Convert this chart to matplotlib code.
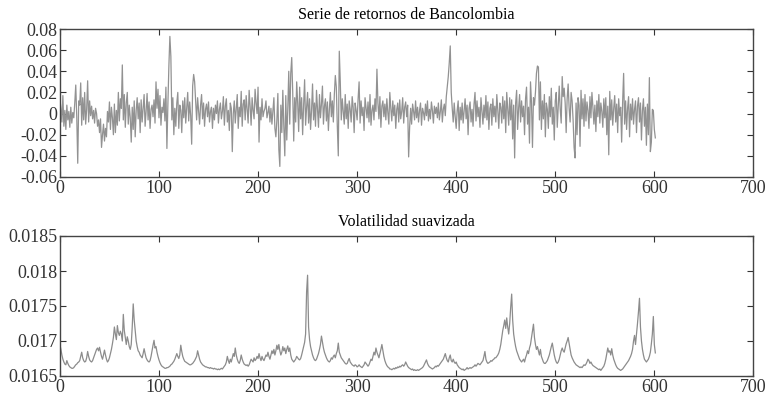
import matplotlib
matplotlib.use('Agg')
import matplotlib.pyplot as plt
import numpy as np

# Retornos diarios de Bancolombia (en milésimas)
retornos = [
    14, 5, -8, 17, -12, 3, -15, 8, -6, 2, -13, 6, -9, 1, -4, 10, 27, -3, -47, 12,
    8, 29, -11, 15, -6, 20, -10, 4, 31, -8, 12, -2, 7, -5, 3, -9, 5, 0, -12, -6,
    -18, -5, -32, -20, -10, -26, -14, -22, 2, -8, 11, -15, 6, -4, -20, 9, -18, 3, -11, 20,
    -7, 14, 5, 46, -6, 18, -13, 10, 20, -10, 8, -4, -27, 6, -15, 12, -22, 3, 15, -5,
    10, -18, 13, -8, 5, 18, -12, 2, 19, -6, 11, -14, 4, 8, -3, 13, -9, 30, 5, 23,
    -4, 17, -11, 6, 1, 14, -7, 25, -33, 9, 45, 73, 54, -6, 15, -20, 5, -12, 10, 20,
    -14, 8, 3, -18, 12, -4, 15, -9, 6, 20, -7, 11, -2, -29, 26, 37, 30, 12, -6, 15,
    3, -10, 8, 18, -5, 10, -12, 4, 9, -3, 11, -8, 2, 6, -14, 5, -6, 8, 0, 12,
    -9, 4, 10, -5, 2, 16, -11, 7, 14, -8, 3, -16, 10, 5, -36, 0, 12, -9, 4, 18,
    -14, 6, -3, 21, -12, 9, 13, -6, 17, 4, -9, 22, 7, -11, 15, 3, -5, 23, 10, 0,
    25, -27, 6, -6, 14, -3, 2, 5, 12, -4, 1, 7, -8, 5, -10, 3, 15, -14, -22, -6,
    19, -34, -50, 8, -18, 22, -12, -40, 17, -25, 4, 40, -10, 38, 53, 20, -26, 15, -8, 30,
    10, -17, 25, -5, 15, -20, 8, 32, -11, 6, 20, -9, 14, -15, 3, 28, -6, 10, -12, 22,
    5, -13, 18, -4, 9, 26, -10, 7, 14, -7, 11, -16, 4, 20, -3, 12, -8, 18, 36, 25,
    -12, -40, 59, 30, -6, 14, 2, -10, 18, -5, 9, -14, 12, 4, -8, 16, 6, -18, 10, 3,
    -6, 14, 30, -9, 12, -2, 6, -16, 15, 5, -4, 11, -8, 18, -11, 3, 8, -6, 14, 2,
    42, 10, -5, 16, -13, 7, 12, -3, 9, -6, 14, 1, -10, 20, 5, -7, 12, -2, 8, -14,
    4, 10, -8, 13, -5, 2, 15, -9, 6, 11, -3, 8, -41, -13, 5, -10, 9, 2, -6, 12,
    -4, 6, -8, 3, 10, -11, 5, 1, -6, 9, -2, 12, -7, 4, -5, 11, 3, -9, 7, 0,
    6, -4, 10, -6, 2, 13, -8, 4, 9, -2, 16, 25, 35, 48, 64, 20, 5, -8, 10, -3,
    -14, 3, 12, -16, 6, -6, 10, -9, 2, 14, -5, 8, -20, 5, 11, -8, 4, -12, 9, 20,
    -7, 12, -3, 6, -13, 15, 2, -10, 8, -4, 17, -6, 11, -15, 5, 9, -11, 14, -3, 7,
    -8, 18, 3, -14, 10, 6, -9, 16, -5, 12, -18, 20, 4, -11, 15, -6, 13, -24, 8, -42,
    10, 22, -15, 5, 18, -8, 12, -3, 7, -20, 14, 25, -10, 6, -28, 30, 10, -32, 15, 8,
    20, 38, 45, 44, -6, 30, -15, 12, -5, 18, -22, 10, 4, -14, 16, -3, 24, -10, 6, -25,
    12, 20, -13, 7, 26, 4, -9, 35, 16, 24, 10, -18, 14, 28, 5, -8, 20, 12, -6, -32,
    -42, 10, -20, 15, 8, -31, 22, -5, 14, -12, 18, -7, 11, 3, -14, 16, -4, 20, 6, -10,
    8, -17, 12, -3, 18, -9, 10, 2, -13, 14, -4, 15, -20, 7, -39, 21, -6, 13, -11, 5,
    17, -8, 9, -18, 14, -2, 6, -27, 11, 38, -10, 12, -15, 5, 16, -22, 9, -6, 14, -10,
    4, 12, -18, 7, 15, -8, 10, -25, 3, 14, -12, 6, -30, 9, -20, 34, -36, -27, 4, 3,
    -15, -23,
]

# Volatilidad suavizada (en milésimas)
volatilidad = [
    16.95, 16.88, 16.80, 16.74, 16.70, 16.67, 16.66, 16.72, 16.68, 16.65, 16.63, 16.62, 16.61, 16.61, 16.62, 16.64, 16.66, 16.67, 16.69, 16.70,
    16.72, 16.78, 16.84, 16.76, 16.72, 16.70, 16.71, 16.76, 16.85, 16.78, 16.73, 16.71, 16.70, 16.72, 16.76, 16.80, 16.84, 16.88, 16.90, 16.86,
    16.91, 16.84, 16.78, 16.74, 16.80, 16.87, 16.80, 16.74, 16.70, 16.72, 16.76, 16.82, 16.88, 16.96, 17.05, 17.20, 17.10, 17.02, 17.22, 17.12,
    17.08, 17.14, 17.10, 17.00, 17.38, 17.15, 17.05, 16.95, 17.06, 17.00, 16.92, 16.88, 16.95, 17.20, 17.53, 17.30, 17.15, 17.00, 16.92, 16.86,
    16.84, 16.80, 16.78, 16.76, 16.82, 16.89, 16.82, 16.76, 16.73, 16.71, 16.70, 16.72, 16.78, 16.86, 16.94, 17.01, 16.90, 16.92, 16.84, 16.78,
    16.73, 16.69, 16.66, 16.64, 16.63, 16.62, 16.61, 16.61, 16.62, 16.62, 16.63, 16.64, 16.66, 16.67, 16.69, 16.71, 16.74, 16.78, 16.82, 16.78,
    16.75, 16.80, 16.94, 16.85, 16.78, 16.74, 16.71, 16.70, 16.69, 16.68, 16.67, 16.66, 16.66, 16.67, 16.68, 16.70, 16.72, 16.75, 16.78, 16.86,
    16.80, 16.74, 16.70, 16.68, 16.66, 16.65, 16.64, 16.63, 16.63, 16.62, 16.62, 16.61, 16.62, 16.61, 16.61, 16.60, 16.61, 16.60, 16.60, 16.59,
    16.60, 16.59, 16.60, 16.61, 16.60, 16.62, 16.64, 16.66, 16.70, 16.78, 16.72, 16.68, 16.74, 16.70, 16.76, 16.82, 16.78, 16.90, 16.80, 16.74,
    16.70, 16.68, 16.72, 16.80, 16.74, 16.70, 16.67, 16.66, 16.65, 16.66, 16.64, 16.66, 16.70, 16.74, 16.72, 16.70, 16.76, 16.72, 16.74, 16.78,
    16.75, 16.82, 16.76, 16.72, 16.78, 16.74, 16.72, 16.76, 16.80, 16.78, 16.84, 16.78, 16.74, 16.80, 16.86, 16.82, 16.88, 16.80, 16.86, 16.94,
    16.88, 16.95, 16.86, 16.80, 16.84, 16.92, 16.86, 16.90, 16.82, 16.88, 16.93, 16.85, 16.90, 16.80, 16.74, 16.72, 16.70, 16.72, 16.74, 16.78,
    16.76, 16.74, 16.73, 16.75, 16.80, 16.86, 16.92, 16.98, 17.10, 17.70, 17.94, 17.20, 17.02, 16.92, 16.86, 16.80, 16.76, 16.73, 16.72, 16.74,
    16.78, 16.82, 16.88, 16.95, 17.07, 16.98, 16.90, 16.84, 16.80, 16.76, 16.73, 16.71, 16.70, 16.72, 16.76, 16.74, 16.78, 16.80, 16.76, 16.82,
    16.86, 16.97, 16.84, 16.80, 16.76, 16.74, 16.72, 16.70, 16.68, 16.67, 16.68, 16.72, 16.75, 16.70, 16.68, 16.66, 16.65, 16.64, 16.66, 16.65,
    16.63, 16.64, 16.66, 16.64, 16.63, 16.62, 16.64, 16.66, 16.70, 16.68, 16.66, 16.64, 16.66, 16.70, 16.74, 16.72, 16.78, 16.84, 16.80, 16.90,
    16.84, 16.80, 16.76, 16.82, 16.88, 16.95, 16.86, 16.78, 16.72, 16.68, 16.65, 16.63, 16.62, 16.60, 16.60, 16.59, 16.60, 16.61, 16.60, 16.62,
    16.61, 16.63, 16.62, 16.64, 16.63, 16.65, 16.66, 16.64, 16.66, 16.70, 16.67, 16.64, 16.62, 16.61, 16.60, 16.59, 16.60, 16.58, 16.59, 16.58,
    16.58, 16.59, 16.58, 16.59, 16.60, 16.61, 16.62, 16.64, 16.67, 16.70, 16.73, 16.68, 16.65, 16.63, 16.62, 16.61, 16.60, 16.61, 16.62, 16.64,
    16.63, 16.65, 16.64, 16.66, 16.68, 16.70, 16.72, 16.74, 16.78, 16.82, 16.76, 16.72, 16.70, 16.76, 16.80, 16.72, 16.70, 16.74, 16.70, 16.68,
    16.70, 16.66, 16.64, 16.62, 16.61, 16.60, 16.59, 16.60, 16.58, 16.59, 16.60, 16.62, 16.60, 16.61, 16.62, 16.61, 16.62, 16.63, 16.64, 16.66,
    16.64, 16.66, 16.68, 16.67, 16.66, 16.68, 16.70, 16.72, 16.78, 16.85, 16.74, 16.70, 16.68, 16.69, 16.70, 16.72, 16.71, 16.73, 16.74, 16.76,
    16.76, 16.78, 16.80, 16.83, 16.88, 16.95, 17.05, 17.15, 17.22, 17.30, 17.18, 17.33, 17.20, 17.10, 17.25, 17.48, 17.67, 17.30, 17.10, 17.00,
    16.92, 16.86, 16.82, 16.78, 16.74, 16.72, 16.70, 16.72, 16.74, 16.70, 16.76, 16.80, 16.86, 16.82, 16.90, 16.95, 17.05, 17.15, 17.24, 17.05,
    16.95, 16.88, 16.92, 16.86, 16.80, 16.88, 16.78, 16.74, 16.70, 16.68, 16.68, 16.70, 16.72, 16.76, 16.80, 16.86, 16.92, 16.97, 16.88, 16.80,
    16.74, 16.70, 16.68, 16.70, 16.74, 16.80, 16.86, 16.90, 16.86, 16.84, 16.90, 16.96, 17.00, 17.05, 16.96, 16.88, 16.80, 16.76, 16.73, 16.70,
    16.68, 16.66, 16.65, 16.64, 16.63, 16.62, 16.63, 16.62, 16.64, 16.66, 16.65, 16.67, 16.70, 16.74, 16.72, 16.68, 16.70, 16.67, 16.65, 16.64,
    16.63, 16.62, 16.61, 16.60, 16.59, 16.60, 16.58, 16.60, 16.62, 16.64, 16.68, 16.74, 16.82, 16.90, 16.84, 16.86, 16.80, 16.89, 16.80, 16.74,
    16.70, 16.66, 16.63, 16.61, 16.60, 16.59, 16.58, 16.59, 16.60, 16.62, 16.64, 16.66, 16.68, 16.70, 16.72, 16.75, 16.78, 16.82, 16.88, 17.00,
    17.08, 16.95, 17.10, 17.25, 17.42, 17.61, 17.20, 17.00, 16.88, 16.80, 16.74, 16.72, 16.70, 16.72, 16.74, 16.78, 16.84, 16.96, 17.10, 17.35,
    16.95, 16.83,
]

x_ticks = [0, 100, 200, 300, 400, 500, 600, 700]
ret_ticks = [-0.06, -0.04, -0.02, 0, 0.02, 0.04, 0.06, 0.08]
ret_labels = ['-0.06', '-0.04', '-0.02', '0', '0.02', '0.04', '0.06', '0.08']
vol_ticks = [0.0165, 0.017, 0.0175, 0.018, 0.0185]
vol_labels = ['0.0165', '0.017', '0.0175', '0.018', '0.0185']

plt.rcParams['font.family'] = ['Liberation Serif', 'DejaVu Serif']

fig = plt.figure(figsize=(7.68, 4.0), dpi=100)
ax1 = fig.add_axes([0.078, 0.5575, 0.903, 0.37])
ax2 = fig.add_axes([0.078, 0.06, 0.903, 0.35])

r = np.array(retornos) / 1000.0
v = np.array(volatilidad) / 1000.0

ax1.plot(np.arange(len(r)), r, color='#929292', lw=0.9)
ax2.plot(np.arange(len(v)), v, color='#8c8c8c', lw=0.9)

ax1.set_xlim(0, 700)
ax1.set_ylim(-0.06, 0.08)
ax1.set_yticks(ret_ticks)
ax1.set_yticklabels(ret_labels)
ax1.set_title('Serie de retornos de Bancolombia', fontsize=11.5, pad=7)

ax2.set_xlim(0, 700)
ax2.set_ylim(0.0165, 0.0185)
ax2.set_yticks(vol_ticks)
ax2.set_yticklabels(vol_labels)
ax2.set_title('Volatilidad suavizada', fontsize=11.5, pad=7)

for ax in (ax1, ax2):
    ax.set_xticks(x_ticks)
    ax.tick_params(direction='in', top=True, right=True, labelsize=13,
                   length=4, width=0.8, colors='#333333', pad=2)
    for s in ax.spines.values():
        s.set_color('#444444')
        s.set_linewidth(1.0)

fig.savefig('out.png', dpi=100)
